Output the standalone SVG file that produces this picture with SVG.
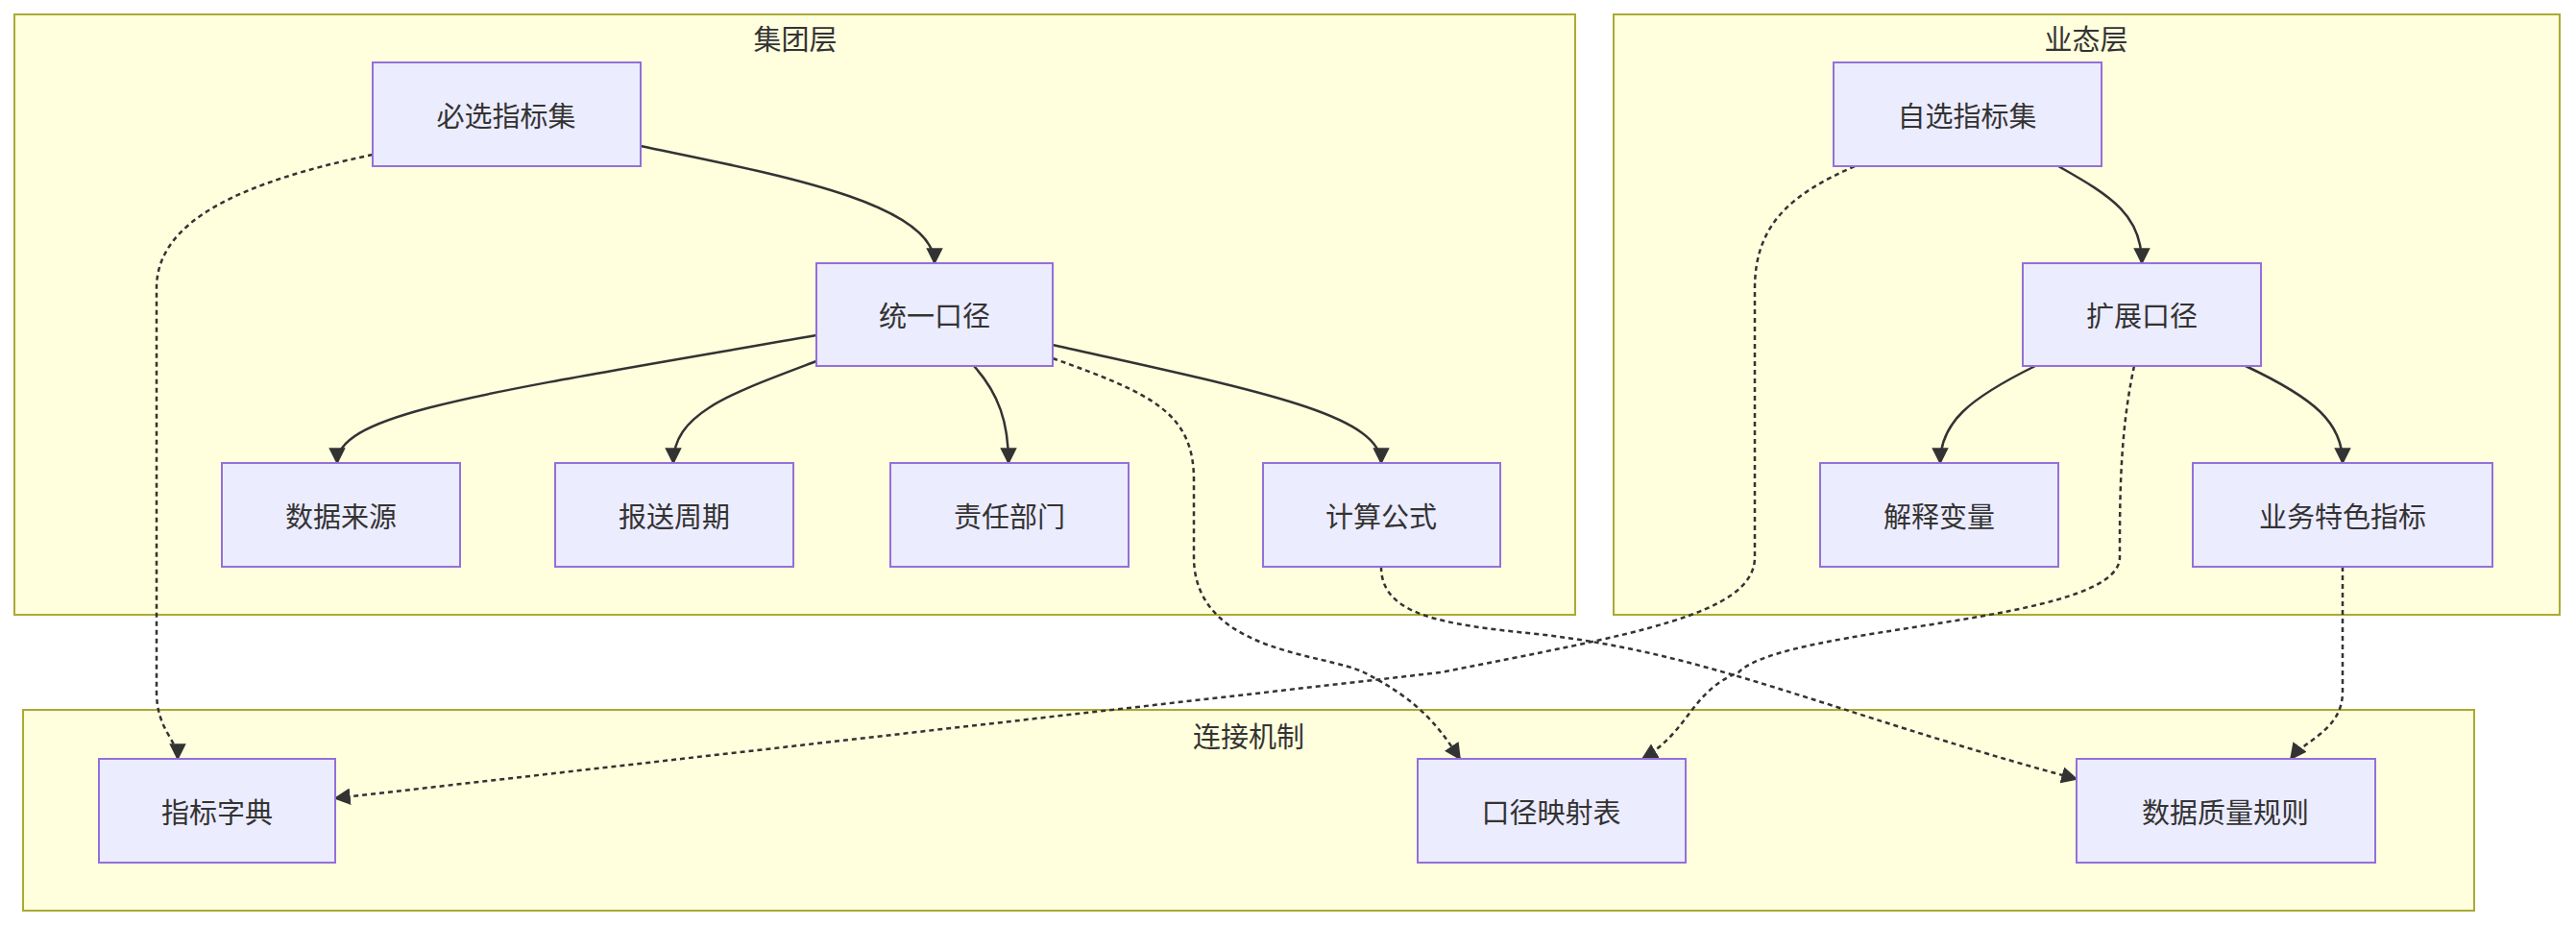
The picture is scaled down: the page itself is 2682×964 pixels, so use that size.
<svg xmlns="http://www.w3.org/2000/svg" width="2682" height="964" viewBox="0 0 2682 964">
<style>
.cl{fill:#ffffde;stroke:#aaaa33;stroke-width:2}
.n rect{fill:#ececff;stroke:#9370db;stroke-width:2}
text{font-family:"Noto Sans CJK SC","Liberation Sans",sans-serif;font-size:29px;fill:#333;text-anchor:middle;dominant-baseline:central}
.e{fill:none;stroke:#333;stroke-width:2.5;marker-end:url(#a)}
.d{stroke-dasharray:5 4}
</style>
<defs><marker id="a" viewBox="0 0 10 10" refX="9" refY="5" markerWidth="7" markerHeight="7" orient="auto"><path d="M0,0L10,5L0,10z" fill="#333"/></marker></defs>
<rect width="2682" height="964" fill="#fff"/>
<g id="c1"><rect class="cl" x="15" y="15" width="1625" height="625"/><text x="828" y="39">集团层</text></g>
<g id="c2"><rect class="cl" x="1680" y="15" width="985" height="625"/><text x="2172" y="39">业态层</text></g>
<g id="c3"><rect class="cl" x="24" y="739" width="2552" height="209"/><text x="1300" y="765">连接机制</text></g>
<g id="edges">
<path class="e" d="M667,152C800,180 973,210 973,274"/>
<path class="e" d="M850,349C500,410 351,430 351,482"/>
<path class="e" d="M850,376C760,410 701,430 701,482"/>
<path class="e" d="M1014,381C1040,410 1050,440 1050,482"/>
<path class="e" d="M1096,359C1300,405 1438,430 1438,482"/>
<path class="e" d="M2143,173C2200,205 2230,225 2230,274"/>
<path class="e" d="M2119,381C2050,415 2020,440 2020,482"/>
<path class="e" d="M2338,381C2410,415 2439,440 2439,482"/>
<path class="e d" d="M388,161C250,190 163,230 163,300L163,720C163,760 185,770 185,790"/>
<path class="e d" d="M1931,173C1870,200 1827,230 1827,300L1827,580C1827,640 1700,660 1500,700L349,831"/>
<path class="e d" d="M1096,373C1200,410 1243,430 1243,500L1243,580C1243,680 1380,680 1420,700C1480,730 1500,760 1520,790"/>
<path class="e d" d="M2222,381C2207,450 2207,520 2207,580C2207,650 1860,650 1810,700C1760,720 1760,760 1710,790"/>
<path class="e d" d="M1438,590C1438,640 1500,650 1600,660C1780,680 1900,740 2162,811"/>
<path class="e d" d="M2439,590L2439,720C2439,760 2400,770 2385,790"/>
</g>
<g id="n1" class="n"><rect x="388" y="65" width="279" height="108"/><text x="527" y="119">必选指标集</text></g>
<g id="n2" class="n"><rect x="850" y="274" width="246" height="107"/><text x="973" y="327">统一口径</text></g>
<g id="n3" class="n"><rect x="231" y="482" width="248" height="108"/><text x="355" y="536">数据来源</text></g>
<g id="n4" class="n"><rect x="578" y="482" width="248" height="108"/><text x="702" y="536">报送周期</text></g>
<g id="n5" class="n"><rect x="927" y="482" width="248" height="108"/><text x="1051" y="536">责任部门</text></g>
<g id="n6" class="n"><rect x="1315" y="482" width="247" height="108"/><text x="1438" y="536">计算公式</text></g>
<g id="n7" class="n"><rect x="1909" y="65" width="279" height="108"/><text x="2048" y="119">自选指标集</text></g>
<g id="n8" class="n"><rect x="2106" y="274" width="248" height="107"/><text x="2230" y="327">扩展口径</text></g>
<g id="n9" class="n"><rect x="1895" y="482" width="248" height="108"/><text x="2019" y="536">解释变量</text></g>
<g id="n10" class="n"><rect x="2283" y="482" width="312" height="108"/><text x="2439" y="536">业务特色指标</text></g>
<g id="n11" class="n"><rect x="103" y="790" width="246" height="108"/><text x="226" y="844">指标字典</text></g>
<g id="n12" class="n"><rect x="1476" y="790" width="279" height="108"/><text x="1615" y="844">口径映射表</text></g>
<g id="n13" class="n"><rect x="2162" y="790" width="311" height="108"/><text x="2317" y="844">数据质量规则</text></g>
</svg>
